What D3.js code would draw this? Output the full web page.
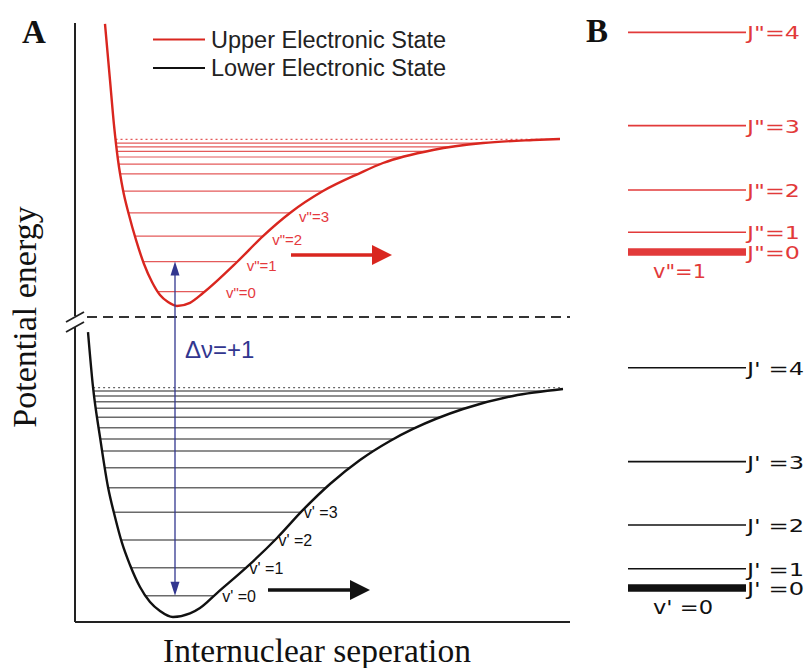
<!DOCTYPE html>
<html>
<head>
<meta charset="utf-8">
<script src="https://cdn.jsdelivr.net/npm/d3@7"></script>
<style>
body { margin: 0; background: #fff; }
</style>
</head>
<body>
<div id="chart"></div>
<script>
// internuclear separation (arb. units) and potential energy (arb. units, broken axis)
var upperR = [0.60, 0.70, 0.78, 0.86, 0.96, 1.08, 1.22, 1.38, 1.54, 1.70, 1.86, 2.04, 2.30, 2.56, 3.24, 3.76, 4.30, 4.96, 5.70, 6.16, 7.16, 8.16, 9.16, 9.70];
var upperE = [39.87, 36.13, 33.13, 30.80, 28.80, 27.13, 25.47, 23.87, 22.67, 21.80, 21.33, 21.07, 21.28, 21.93, 24.00, 25.73, 27.27, 28.73, 29.93, 30.60, 31.47, 31.93, 32.13, 32.20];

var lowerR = [0.26, 0.36, 0.50, 0.66, 0.80, 0.94, 1.10, 1.30, 1.50, 1.70, 1.96, 2.30, 2.50, 2.84, 3.44, 4.04, 4.56, 5.10, 5.70, 6.30, 6.76, 7.76, 8.76, 9.76];
var lowerE = [19.33, 15.67, 12.33, 9.00, 7.00, 5.27, 3.80, 2.33, 1.33, 0.73, 0.33, 0.57, 0.93, 1.93, 3.67, 5.60, 7.47, 9.20, 10.80, 12.07, 12.87, 14.20, 15.07, 15.53];

// vibrational levels (v = 0, 1, 2 ...) and dissociation limits
var upperLevels = [22.03, 24.03, 25.73, 27.27, 28.73, 29.87, 30.53, 31.00, 31.37, 31.67, 31.93];
var lowerLevels = [1.75, 3.62, 5.47, 7.31, 8.95, 10.29, 11.40, 12.20, 12.95, 13.65, 14.25, 14.69, 15.07, 15.40];
var upperLimit = 32.17;
var lowerLimit = 15.62;
var upperVLabels = ['v"=0', 'v"=1', 'v"=2', 'v"=3'];
var lowerVLabels = ["v' =0", "v' =1", "v' =2", "v' =3"];

// panel B: rotational levels J = 0..4
var upperJ = [24.67, 25.98, 28.80, 33.09, 39.31];
var lowerJ = [2.27, 3.55, 6.47, 10.69, 16.95];
var upperJLabels = ['J"=0', 'J"=1', 'J"=2', 'J"=3', 'J"=4'];
var lowerJLabels = ["J' =0", "J' =1", "J' =2", "J' =3", "J' =4"];

var red = "#d9261f", redText = "#e5393d", blue = "#32368f";

var svg = d3.select("#chart").append("svg")
    .attr("width", 807)
    .attr("height", 668);

var x = d3.scaleLinear().domain([0, 9.9]).range([75, 570]);
var y = d3.scaleLinear().domain([0, 40]).range([622, 22]);
var breakE = 20.33;

// axes (no ticks, broken y axis)
svg.append("line")
    .attr("x1", x(0)).attr("x2", x(9.9))
    .attr("y1", y(0)).attr("y2", y(0))
    .attr("stroke", "#222").attr("stroke-width", 2);
svg.append("line")
    .attr("x1", x(0)).attr("x2", x(0))
    .attr("y1", y(0)).attr("y2", y(breakE) + 10)
    .attr("stroke", "#222").attr("stroke-width", 2);
svg.append("line")
    .attr("x1", x(0)).attr("x2", x(0))
    .attr("y1", y(breakE) - 1).attr("y2", y(39.93))
    .attr("stroke", "#222").attr("stroke-width", 2);
[0, 10].forEach(function(o) {
  svg.append("line")
    .attr("x1", x(0) - 9).attr("y1", y(breakE) + 5 + o)
    .attr("x2", x(0) + 9).attr("y2", y(breakE) - 5 + o)
    .attr("stroke", "#222").attr("stroke-width", 1.8);
});
svg.append("line")
    .attr("x1", x(0.24)).attr("x2", x(9.9))
    .attr("y1", y(breakE)).attr("y2", y(breakE))
    .attr("stroke", "#333").attr("stroke-width", 2)
    .attr("stroke-dasharray", "10,6");

var line = d3.line()
    .x(function(d) { return x(d[0]); })
    .y(function(d) { return y(d[1]); })
    .curve(d3.curveMonotoneX);

function crossings(node, py) {
  var L = node.getTotalLength(), pts = [];
  for (var l = 0; l <= L; l += 0.5) pts.push(node.getPointAtLength(l));
  var iMin = d3.maxIndex(pts, function(p) { return p.y; });
  var left = pts[0].x, right = pts[pts.length - 1].x;
  for (var i = 0; i <= iMin; i++) { if (pts[i].y >= py) { left = pts[i].x; break; } }
  for (var j = iMin; j < pts.length; j++) { if (pts[j].y <= py) { right = pts[j].x; break; } }
  return [left, right];
}

function drawState(R, E, levels, limit, curveColor, levelColor, levelWidth) {
  var g = svg.append("g");
  var path = g.append("path")
      .datum(d3.zip(R, E))
      .attr("d", line)
      .attr("fill", "none")
      .attr("stroke", curveColor)
      .attr("stroke-width", 2.4);
  var node = path.node();
  var lv = g.insert("g", "path");
  levels.forEach(function(e) {
    var c = crossings(node, y(e));
    lv.append("line")
      .attr("x1", c[0]).attr("x2", c[1])
      .attr("y1", y(e)).attr("y2", y(e))
      .attr("stroke", levelColor).attr("stroke-width", levelWidth);
  });
  var cl = crossings(node, y(limit));
  lv.append("line")
    .attr("x1", cl[0]).attr("x2", x(R[R.length - 1]))
    .attr("y1", y(limit)).attr("y2", y(limit))
    .attr("stroke", levelColor).attr("stroke-width", 1.2)
    .attr("stroke-dasharray", "2,3");
  return node;
}

var upperNode = drawState(upperR, upperE, upperLevels, upperLimit, red, "#e45a5a", 1.2);
var lowerNode = drawState(lowerR, lowerE, lowerLevels, lowerLimit, "#111", "#6a6a6a", 1.5);

// v labels
svg.selectAll(".vu").data(upperVLabels).enter().append("text")
    .attr("class", "vu")
    .attr("x", function(d, i) { return crossings(upperNode, y(upperLevels[i]))[1] + (i == 0 ? 21 : 9); })
    .attr("y", function(d, i) { return y(upperLevels[i]) + (i == 0 ? 6 : 9); })
    .attr("font-family", "Liberation Sans, Arial, sans-serif")
    .attr("font-size", 15)
    .attr("fill", redText)
    .text(function(d) { return d; });
svg.selectAll(".vl").data(lowerVLabels).enter().append("text")
    .attr("class", "vl")
    .attr("x", function(d, i) { return crossings(lowerNode, y(lowerLevels[i]))[1] + (i == 0 ? 8 : 3); })
    .attr("y", function(d, i) { return y(lowerLevels[i]) + 6; })
    .attr("font-family", "Liberation Sans, Arial, sans-serif")
    .attr("font-size", 16)
    .attr("fill", "#111")
    .text(function(d) { return d; });

// horizontal arrows
function arrow(r0, r1, e, color, w) {
  svg.append("line")
    .attr("x1", x(r0)).attr("x2", x(r1) - 18)
    .attr("y1", y(e)).attr("y2", y(e))
    .attr("stroke", color).attr("stroke-width", w);
  svg.append("path")
    .attr("d", "M" + x(r1) + "," + y(e) + "L" + (x(r1) - 20) + "," + (y(e) - 10) + "L" + (x(r1) - 20) + "," + (y(e) + 10) + "Z")
    .attr("fill", color);
}
arrow(4.32, 6.34, 24.47, red, 3.5);
arrow(3.86, 5.90, 2.13, "#111", 3.5);

// transition arrow v'=0 -> v"=1
var rT = 2.0, yTop = y(upperLevels[1]), yBot = y(lowerLevels[0]);
svg.append("line")
    .attr("x1", x(rT)).attr("x2", x(rT))
    .attr("y1", yTop + 10).attr("y2", yBot - 10)
    .attr("stroke", blue).attr("stroke-width", 1.3);
svg.append("path")
    .attr("d", "M" + x(rT) + "," + yTop + "L" + (x(rT) - 4.5) + "," + (yTop + 14) + "L" + (x(rT) + 4.5) + "," + (yTop + 14) + "Z")
    .attr("fill", blue);
svg.append("path")
    .attr("d", "M" + x(rT) + "," + yBot + "L" + (x(rT) - 4.5) + "," + (yBot - 14) + "L" + (x(rT) + 4.5) + "," + (yBot - 14) + "Z")
    .attr("fill", blue);
svg.append("text")
    .attr("x", x(rT) + 10).attr("y", 358)
    .attr("font-family", "Liberation Sans, Arial, sans-serif")
    .attr("font-size", 24)
    .attr("fill", blue)
    .text("\u0394\u03bd=+1");

// legend
var legend = [["Upper Electronic State", red], ["Lower Electronic State", "#111"]];
legend.forEach(function(d, i) {
  svg.append("line")
    .attr("x1", 153).attr("x2", 205)
    .attr("y1", 39.5 + i * 28.4).attr("y2", 39.5 + i * 28.4)
    .attr("stroke", d[1]).attr("stroke-width", 2);
  svg.append("text")
    .attr("x", 211).attr("y", 47.7 + i * 28.4)
    .attr("font-family", "Liberation Sans, Arial, sans-serif")
    .attr("font-size", 23.5)
    .attr("fill", "#222")
    .text(d[0]);
});

// axis titles and panel letters
svg.append("text")
    .attr("transform", "translate(36,317) rotate(-90)")
    .attr("text-anchor", "middle")
    .attr("font-family", "Liberation Serif, Times New Roman, serif")
    .attr("font-size", 34)
    .attr("fill", "#111")
    .text("Potential energy");
svg.append("text")
    .attr("x", 317).attr("y", 662)
    .attr("text-anchor", "middle")
    .attr("font-family", "Liberation Serif, Times New Roman, serif")
    .attr("font-size", 33.5)
    .attr("fill", "#111")
    .text("Internuclear seperation");
svg.append("text")
    .attr("x", 22).attr("y", 43)
    .attr("font-family", "Liberation Serif, Times New Roman, serif")
    .attr("font-weight", "bold")
    .attr("font-size", 33)
    .attr("fill", "#111")
    .text("A");
svg.append("text")
    .attr("x", 586).attr("y", 42)
    .attr("font-family", "Liberation Serif, Times New Roman, serif")
    .attr("font-weight", "bold")
    .attr("font-size", 33)
    .attr("fill", "#111")
    .text("B");

// panel B rotational levels
function drawJ(levels, labels, color, vLabel, jWidth, vWidth) {
  var g = svg.append("g");
  g.selectAll("line").data(levels).enter().append("line")
    .attr("x1", 628).attr("x2", 746)
    .attr("y1", function(d) { return y(d); })
    .attr("y2", function(d) { return y(d); })
    .attr("stroke", color)
    .attr("stroke-width", function(d, i) { return i == 0 ? 7.5 : 1.6; });
  g.selectAll("text").data(labels).enter().append("text")
    .attr("x", 747)
    .attr("y", function(d, i) { return y(levels[i]) + 7; })
    .attr("font-family", "DejaVu Sans, Verdana, sans-serif")
    .attr("font-size", 17)
    .attr("textLength", jWidth)
    .attr("lengthAdjust", "spacingAndGlyphs")
    .attr("fill", color)
    .text(function(d) { return d; });
  g.append("text")
    .attr("x", 653).attr("y", y(levels[0]) + 26)
    .attr("font-family", "DejaVu Sans, Verdana, sans-serif")
    .attr("font-size", 19)
    .attr("textLength", vWidth)
    .attr("lengthAdjust", "spacingAndGlyphs")
    .attr("fill", color)
    .text(vLabel);
}
drawJ(upperJ, upperJLabels, "#e23a3a", 'v"=1', 53, 53);
drawJ(lowerJ, lowerJLabels, "#111", "v' =0", 57, 60);
</script>
</body>
</html>
